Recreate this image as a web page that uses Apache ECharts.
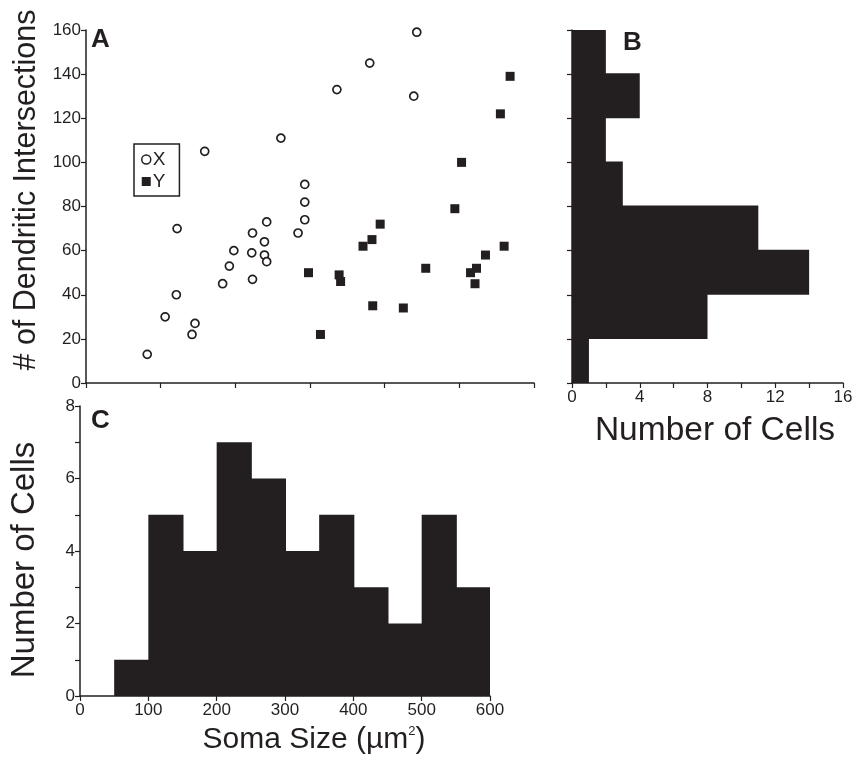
<!DOCTYPE html>
<html>
<head>
<meta charset="utf-8">
<script src="https://cdn.jsdelivr.net/npm/echarts@6/dist/echarts.min.js"></script>
<style>
  html, body { margin: 0; padding: 0; background: #fff; }
  #main { width: 858px; height: 761px; }
</style>
</head>
<body>
<div id="main"></div>
<script>
// X cells (open circles): soma size, dendritic intersections
var xSoma = [82, 106, 121, 142, 146, 122, 159, 183, 192, 198, 223, 222, 223, 239, 239, 242, 242, 261, 284, 293, 293, 293, 336, 380, 443, 439];
var xDend = [13, 30, 40, 22, 27, 70, 105, 45, 53, 60, 47, 59, 68, 64, 58, 55, 73, 111, 68, 74, 82, 90, 133, 145, 159, 130];
// Y cells (filled squares)
var ySoma = [298, 314, 339, 341, 371, 383, 394, 384, 425, 455, 494, 503, 515, 523, 521, 535, 560, 555, 568];
var yDend = [50, 22, 49, 46, 62, 65, 72, 35, 34, 52, 79, 100, 50, 52, 45, 58, 62, 122, 139];

// B: histogram of dendritic intersections (bins of 20)
var bEdges = [0, 20, 40, 60, 80, 100, 120, 140, 160];
var bCounts = [1, 8, 14, 11, 3, 2, 4, 2];

// C: histogram of soma size (bins of 50)
var cEdges = [0, 50, 100, 150, 200, 250, 300, 350, 400, 450, 500, 550, 600];
var cCounts = [0, 1, 5, 4, 7, 6, 4, 5, 3, 2, 5, 3];

var ink = '#231f20';
var fontFam = '"Liberation Sans", Arial, sans-serif';

var xPts = xSoma.map(function(v, i) { return [v, xDend[i]]; });
var yPts = ySoma.map(function(v, i) { return [v, yDend[i]]; });

var bData = bCounts.map(function(c, i) { return [bEdges[i], bEdges[i + 1], c]; });
var cData = cCounts.map(function(c, i) { return [cEdges[i], cEdges[i + 1], c]; });

function axisBase(extra) {
  var a = {
    axisLine: { show: true, onZero: false, lineStyle: { color: ink, width: 1.5 } },
    axisTick: { show: true, inside: false, length: 5, lineStyle: { color: ink, width: 1.2 } },
    axisLabel: { color: ink, fontSize: 17, fontFamily: fontFam, margin: 5 },
    splitLine: { show: false }
  };
  for (var k in extra) a[k] = extra[k];
  return a;
}

function barRect(x, y, w, h) {
  return {
    type: 'rect',
    shape: { x: x, y: y, width: w, height: h },
    style: { fill: ink }
  };
}

var chart = echarts.init(document.getElementById('main'));

chart.setOption({
  animation: false,
  backgroundColor: '#fff',
  grid: [
    { left: 86, top: 30, width: 448, height: 353 },   // A
    { left: 572, top: 30, width: 271, height: 353 },  // B
    { left: 80, top: 406, width: 410, height: 290 }   // C
  ],
  xAxis: [
    axisBase({ gridIndex: 0, type: 'value', min: 0, max: 600, interval: 100,
      axisLabel: { show: false } }),
    axisBase({ gridIndex: 1, type: 'value', min: 0, max: 16, interval: 2,
      axisLabel: { color: ink, fontSize: 17, fontFamily: fontFam, margin: 6,
        formatter: function(v) { return v % 4 === 0 ? v : ''; } } }),
    axisBase({ gridIndex: 2, type: 'value', min: 0, max: 600, interval: 100,
      axisLabel: { color: ink, fontSize: 17, fontFamily: fontFam, margin: 6 } })
  ],
  yAxis: [
    axisBase({ gridIndex: 0, type: 'value', min: 0, max: 160, interval: 20 }),
    axisBase({ gridIndex: 1, type: 'value', min: 0, max: 160, interval: 20,
      axisLabel: { show: false } }),
    axisBase({ gridIndex: 2, type: 'value', min: 0, max: 8, interval: 1,
      axisLabel: { color: ink, fontSize: 17, fontFamily: fontFam, margin: 5,
        formatter: function(v) { return v % 2 === 0 ? v : ''; } } })
  ],
  legend: {
    left: 134, top: 144,
    orient: 'vertical',
    borderColor: ink, borderWidth: 1.5,
    padding: [6, 14, 5, 7],
    itemGap: 3,
    itemWidth: 9, itemHeight: 9,
    textStyle: { color: ink, fontSize: 19, fontFamily: fontFam, padding: [0, 0, 0, -3] },
    data: [
      { name: 'X', icon: 'circle', itemStyle: { color: '#fff', borderColor: ink, borderWidth: 1.5 } },
      { name: 'Y', icon: 'rect', itemStyle: { color: ink } }
    ]
  },
  series: [
    {
      name: 'X', type: 'scatter', xAxisIndex: 0, yAxisIndex: 0,
      symbol: 'circle', symbolSize: 8,
      itemStyle: { color: '#fff', borderColor: ink, borderWidth: 1.7, opacity: 1 },
      data: xPts
    },
    {
      name: 'Y', type: 'scatter', xAxisIndex: 0, yAxisIndex: 0,
      symbol: 'rect', symbolSize: 9,
      itemStyle: { color: ink, opacity: 1 },
      data: yPts
    },
    {
      // B: horizontal histogram, bins overlap 1px so no seams show
      type: 'custom', xAxisIndex: 1, yAxisIndex: 1,
      renderItem: function(params, api) {
        var p0 = api.coord([0, api.value(1)]);
        var p1 = api.coord([api.value(2), api.value(0)]);
        var pad = params.dataIndex < bCounts.length - 1 ? 1 : 0;
        return barRect(p0[0], p0[1] - pad, p1[0] - p0[0], p1[1] - p0[1] + pad);
      },
      data: bData
    },
    {
      // C: soma size histogram
      type: 'custom', xAxisIndex: 2, yAxisIndex: 2,
      renderItem: function(params, api) {
        var p0 = api.coord([api.value(0), api.value(2)]);
        var p1 = api.coord([api.value(1), 0]);
        var pad = params.dataIndex < cCounts.length - 1 ? 1 : 0;
        return barRect(p0[0], p0[1], p1[0] - p0[0] + pad, p1[1] - p0[1]);
      },
      data: cData
    }
  ],
  graphic: [
    { type: 'text', left: 91, top: 27, style: { text: 'A', fill: ink, font: 'bold 26px ' + fontFam } },
    { type: 'text', left: 623, top: 30, style: { text: 'B', fill: ink, font: 'bold 26px ' + fontFam } },
    { type: 'text', left: 91, top: 408, style: { text: 'C', fill: ink, font: 'bold 26px ' + fontFam } },
    { type: 'text', x: 27, y: 190, rotation: Math.PI / 2,
      style: { text: '# of Dendritic Intersections', fill: ink, font: '30.5px ' + fontFam,
        align: 'center', verticalAlign: 'middle' } },
    { type: 'text', x: 25, y: 560, rotation: Math.PI / 2,
      style: { text: 'Number of Cells', fill: ink, font: '33px ' + fontFam,
        align: 'center', verticalAlign: 'middle' } },
    { type: 'text', x: 715, y: 431,
      style: { text: 'Number of Cells', fill: ink, font: '33.5px ' + fontFam,
        align: 'center', verticalAlign: 'middle' } },
    { type: 'text', x: 314, y: 740,
      style: { text: '{a|Soma Size (\u00b5m}{s|2}{a|)}', align: 'center', verticalAlign: 'middle',
        rich: {
          a: { fill: ink, fontSize: 30, fontFamily: fontFam },
          s: { fill: ink, fontSize: 13, fontFamily: fontFam, verticalAlign: 'top', padding: [0, 0, 14, 0] }
        } } }
  ]
});
</script>
</body>
</html>
